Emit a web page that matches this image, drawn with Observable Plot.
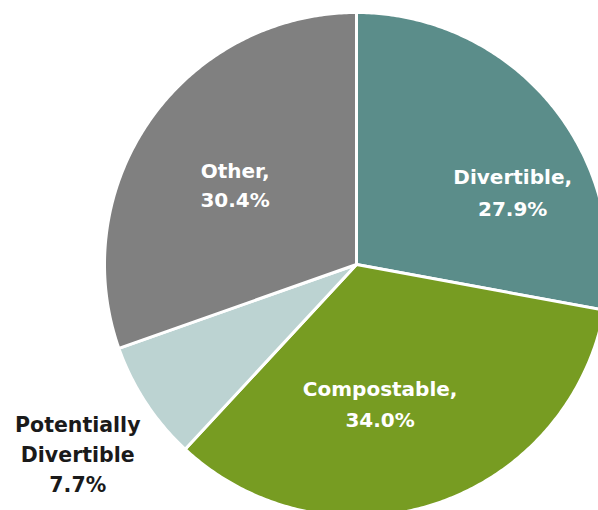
<!DOCTYPE html>
<html>
<head>
<meta charset="utf-8">
<script src="https://cdn.jsdelivr.net/npm/d3@7"></script>
<script src="https://cdn.jsdelivr.net/npm/@observablehq/plot@0.6"></script>
<style>
  html, body { margin: 0; padding: 0; background: #fff; overflow: hidden; }
  #chart svg { display: block; }
</style>
</head>
<body>
<div id="chart"></div>
<script>
// Data (clockwise from 12 o'clock)
const categories = ["Divertible", "Compostable", "Potentially Divertible", "Other"];
const shares = [27.9, 34.0, 7.7, 30.4];
const labels = ["Divertible,\n27.9%", "Compostable,\n34.0%", "Potentially\nDivertible\n7.7%", "Other,\n30.4%"];
const colors = ["#5b8d8a", "#779c22", "#bcd3d2", "#808080"];
const labelColors = ["#ffffff", "#ffffff", "#1a1a1a", "#ffffff"];

// Layout
const W = 598, H = 510;
const cx = 356, cy = 264, R = 252;
const labelRadius = [0.6, 0.6, 1.2, 0.6];
const labelDx = [40, -24, -26, 2];
const labelDy = [22, -6, 22, 6];
const labelSize = [20, 20, 20.5, 20];
const labelLine = [1.6, 1.55, 1.47, 1.45];

const pie = d3.pie().sort(null).value(d => d)(shares);

// Polygon points for each slice (in pixel-like units centered at pie center)
const pts = [];
pie.forEach((p, i) => {
  const name = categories[i];
  pts.push({name, x: 0, y: 0});
  const n = Math.max(2, Math.ceil((p.endAngle - p.startAngle) / 0.01));
  for (let k = 0; k <= n; k++) {
    const a = p.startAngle + (p.endAngle - p.startAngle) * k / n;
    pts.push({name, x: R * Math.sin(a), y: R * Math.cos(a)});
  }
  pts.push({name, x: 0, y: 0});
});

const labelData = pie.map((p, i) => {
  const a = (p.startAngle + p.endAngle) / 2;
  const r = R * labelRadius[i];
  return {name: categories[i], text: labels[i], x: r * Math.sin(a), y: r * Math.cos(a), color: labelColors[i], dx: labelDx[i], dy: labelDy[i], size: labelSize[i], lh: labelLine[i]};
});

const plot = Plot.plot({
  width: W,
  height: H,
  margin: 0,
  x: {domain: [-cx, W - cx], axis: null},
  y: {domain: [-(H - cy), cy], axis: null},
  color: {domain: categories, range: colors},
  style: {fontFamily: "'DejaVu Sans', sans-serif", background: "#fff"},
  marks: [
    Plot.line(pts, {x: "x", y: "y", z: "name", fill: "name", stroke: "#ffffff", strokeWidth: 3, strokeLinejoin: "round", clip: true}),
    ...labelData.map(d => Plot.text([d], {
      x: "x", y: "y", text: "text", fill: d.color, dx: d.dx, dy: d.dy,
      fontSize: d.size, fontWeight: "bold", lineHeight: d.lh, textAnchor: "middle"
    }))
  ]
});
document.getElementById("chart").appendChild(plot);
</script>
</body>
</html>
